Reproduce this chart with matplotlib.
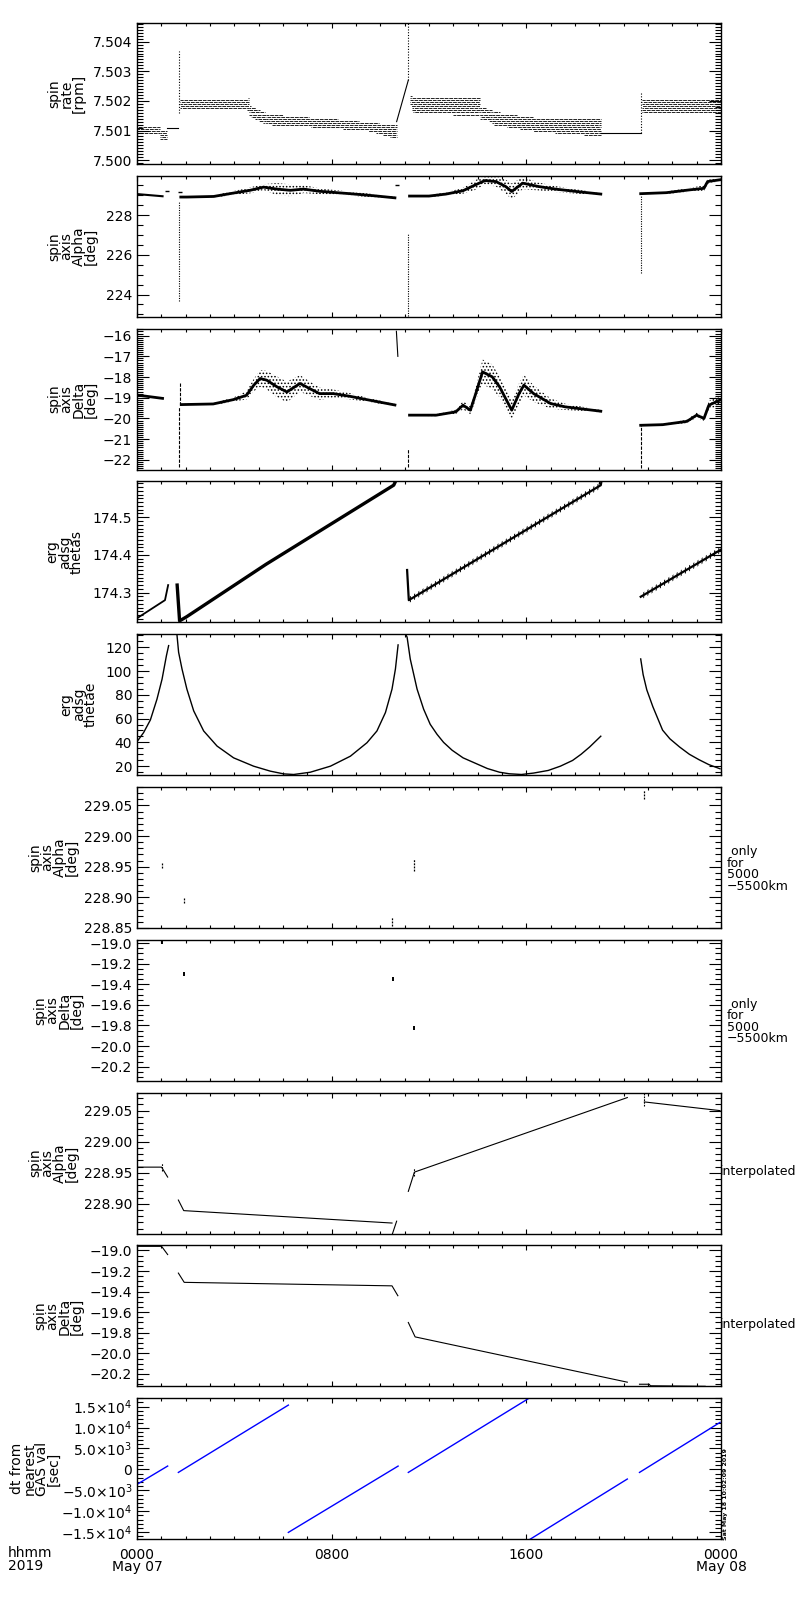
import numpy as np
import matplotlib
matplotlib.use("Agg")
import matplotlib.pyplot as plt
from matplotlib.ticker import MultipleLocator, FixedLocator, FuncFormatter

plt.rcParams['font.family'] = ['DejaVu Sans']
plt.rcParams['hatch.linewidth'] = 0.7

# ---------------- x axis (hours of 2019-05-07) ----------------
xtick_hours = [0, 8, 16, 24]
xtick_labels = ["0000\nMay 07", "0800", "1600", "0000\nMay 08"]
corner_label = "hhmm\n2019"
stamp_text = "Sat May 18 10:02:09 2019"

ylabels = ["spin\nrate\n[rpm]", "spin\naxis\nAlpha\n[deg]", "spin\naxis\nDelta\n[deg]",
           "erg\nadsg\nthetas", "erg\nadsg\nthetae", "spin\naxis\nAlpha\n[deg]",
           "spin\naxis\nDelta\n[deg]", "spin\naxis\nAlpha\n[deg]", "spin\naxis\nDelta\n[deg]",
           "dt from\nnearest\nGAS val\n[sec]"]
right_notes = [None, None, None, None, None,
               " only\nfor\n5000\n\u22125500km", " only\nfor\n5000\n\u22125500km",
               "interpolated", "interpolated", None]

# ---------------- panel 1: spin rate (quantized bands) ----------------
rate_quant = 0.00007
rate_band_t = [[0.0, 0.96], [0.96, 1.25], [1.78, 2.1, 4.5, 4.6], [4.6, 5.3],
               [5.3, 6.5, 8.0, 9.5, 10.67], [11.2, 11.35, 14.1], [14.1, 14.6],
               [14.6, 16.5, 19.06], [20.75, 24.0]]
rate_band_lo = [[7.50088, 7.50088], [7.5007, 7.5007], [7.5017, 7.5017, 7.5017, 7.5016],
                [7.5015, 7.5012], [7.5012, 7.50115, 7.50108, 7.50098, 7.5007],
                [7.50195, 7.5016, 7.5015], [7.5014, 7.5013], [7.5012, 7.50095, 7.5008],
                [7.50158, 7.50158]]
rate_band_hi = [[7.50113, 7.50113], [7.50098, 7.50098], [7.50207, 7.5021, 7.50205, 7.50215],
                [7.50185, 7.5016], [7.5016, 7.5015, 7.50142, 7.5013, 7.5012],
                [7.5023, 7.5021, 7.50214], [7.5018, 7.5017], [7.50164, 7.50145, 7.5014],
                [7.50205, 7.50205]]
rate_line_t = [[1.25, 1.70], [10.67, 11.15], [19.06, 20.7]]
rate_line_v = [[7.5011, 7.5011], [7.5013, 7.5027], [7.5009, 7.5009]]
rate_spike_t = [1.72, 11.15, 20.72]
rate_spike_lo = [7.5016, 7.5027, 7.5009]
rate_spike_hi = [7.5037, 7.50465, 7.50225]

# ---------------- panel 2: spin axis alpha ----------------
alpha_pre_t = [0.0, 1.05]
alpha_pre_v = [229.06, 228.95]
alpha_o1_t = [1.8, 2.05, 3.15, 3.96, 4.65, 5.2, 5.75, 6.3, 6.85, 7.5, 8.75, 9.7, 10.6]
alpha_o1_v = [228.91, 228.91, 228.94, 229.11, 229.25, 229.41, 229.31, 229.25, 229.31, 229.2, 229.08, 228.98, 228.87]
alpha_o1_sp = [0.03, 0.03, 0.05, 0.1, 0.15, 0.15, 0.3, 0.3, 0.2, 0.15, 0.1, 0.08, 0.05]
alpha_o2_t = [11.2, 12.0, 12.7, 13.4, 13.9, 14.3, 14.75, 15.15, 15.4, 15.85, 16.5, 17.2, 18.2, 19.06]
alpha_o2_v = [228.96, 228.96, 229.06, 229.23, 229.52, 229.74, 229.69, 229.44, 229.19, 229.61, 229.44, 229.31, 229.17, 229.06]
alpha_o2_sp = [0.03, 0.05, 0.08, 0.15, 0.25, 0.2, 0.25, 0.35, 0.4, 0.3, 0.2, 0.15, 0.1, 0.05]
alpha_o3_t = [20.7, 21.75, 22.7, 23.3, 23.45, 23.96]
alpha_o3_v = [229.08, 229.13, 229.27, 229.35, 229.69, 229.78]
alpha_o3_sp = [0.03, 0.06, 0.1, 0.15, 0.1, 0.08]
alpha_drop_t = [1.72, 11.15, 20.72]
alpha_drop_top = [228.7, 227.1, 229.0]
alpha_drop_bot = [223.7, 222.9, 225.1]
alpha_dash_t = [1.25, 1.76, 10.7]
alpha_dash_v = [229.2, 229.15, 229.53]

# ---------------- panel 3: spin axis delta ----------------
delta_pre_t = [0.0, 1.05]
delta_pre_v = [-18.87, -19.03]
delta_o1_t = [1.82, 3.13, 3.96, 4.5, 4.8, 5.06, 5.33, 5.75, 6.16, 6.7, 7.1, 7.5, 8.07, 8.75, 9.44, 10.6]
delta_o1_v = [-19.33, -19.30, -19.09, -18.88, -18.39, -18.07, -18.15, -18.47, -18.72, -18.31, -18.56, -18.8, -18.8, -18.93, -19.09, -19.35]
delta_o1_sp = [0.03, 0.05, 0.1, 0.2, 0.3, 0.4, 0.45, 0.5, 0.5, 0.4, 0.35, 0.3, 0.2, 0.15, 0.1, 0.05]
delta_o2_t = [11.2, 12.3, 13.1, 13.4, 13.7, 13.9, 14.2, 14.6, 14.9, 15.15, 15.4, 15.7, 15.9, 16.3, 17.0, 17.6, 19.06]
delta_o2_v = [-19.84, -19.84, -19.68, -19.36, -19.60, -18.88, -17.75, -17.99, -18.47, -19.04, -19.6, -18.8, -18.39, -18.8, -19.28, -19.44, -19.65]
delta_o2_sp = [0.03, 0.05, 0.1, 0.2, 0.2, 0.3, 0.6, 0.6, 0.5, 0.5, 0.5, 0.5, 0.5, 0.4, 0.25, 0.15, 0.06]
delta_o3_t = [20.7, 21.6, 22.6, 23.0, 23.3, 23.5, 23.96]
delta_o3_v = [-20.33, -20.3, -20.14, -19.84, -20.0, -19.36, -19.11]
delta_o3_sp = [0.02, 0.04, 0.08, 0.12, 0.12, 0.2, 0.25]
delta_drop_t = [1.72, 11.12, 20.72, 1.76]
delta_drop_top = [-19.44, -21.47, -20.33, -18.3]
delta_drop_bot = [-22.36, -22.36, -22.4, -19.33]
delta_jump_t = [10.66, 10.72]
delta_jump_v = [-15.79, -17.0]

# ---------------- panel 4: thetas ----------------
thetas_o0_t = [0.0, 1.15, 1.28]
thetas_o0_v = [174.232, 174.28, 174.32]
thetas_o1_t = [1.65, 1.75, 2.04, 5.3, 10.55, 10.66]
thetas_o1_v = [174.32, 174.225, 174.236, 174.375, 174.585, 174.6]
thetas_o2_t = [11.10, 11.17, 19.06, 19.1]
thetas_o2_v = [174.36, 174.28, 174.585, 174.6]
thetas_o3_t = [20.7, 24.0]
thetas_o3_v = [174.289, 174.414]

# ---------------- panel 5: thetae ----------------
thetae_o0_t = [0.0, 0.27, 0.55, 0.82, 1.03, 1.21, 1.30]
thetae_o0_v = [40.6, 48.2, 58.9, 76.3, 93.2, 113.0, 121.4]
thetae_o1_t = [1.64, 1.71, 1.85, 2.05, 2.33, 2.74, 3.29, 3.97, 4.79, 5.48, 6.03, 6.44, 7.12,
               7.95, 8.77, 9.45, 9.86, 10.21, 10.48, 10.62, 10.73]
thetae_o1_v = [131.0, 115.8, 101.7, 84.8, 66.5, 49.6, 36.9, 27.0, 20.0, 15.8, 13.5, 13.0, 14.9,
               20.0, 28.4, 39.7, 49.6, 65.1, 84.8, 101.7, 122.0]
thetae_o2_t = [11.04, 11.10, 11.23, 11.51, 11.78, 12.05, 12.33, 12.6, 12.95, 13.4, 13.9, 14.4,
               14.9, 15.3, 15.8, 16.3, 16.9, 17.4, 17.9, 18.25, 18.6, 19.06]
thetae_o2_v = [131.0, 128.5, 110.1, 84.8, 67.9, 55.2, 46.8, 40.0, 33.4, 27.0, 22.5, 18.0,
               14.9, 13.6, 13.0, 14.2, 16.4, 20.0, 24.8, 30.0, 36.1, 45.2]
thetae_o3_t = [20.7, 20.8, 20.95, 21.2, 21.6, 21.9, 22.3, 22.7, 23.1, 23.5, 23.96]
thetae_o3_v = [110.2, 97.0, 84.2, 70.0, 50.3, 43.0, 36.1, 30.0, 25.4, 21.3, 17.8]

# ---------------- panels 6/7: only for 5000-5500 km ----------------
only_alpha_t = [1.01, 1.92, 10.48, 11.37, 20.85]
only_alpha_lo = [228.948, 228.891, 228.853, 228.943, 229.06]
only_alpha_hi = [228.958, 228.899, 228.868, 228.962, 229.075]
only_delta_t = [1.01, 1.92, 10.5, 11.38]
only_delta_v = [-18.99, -19.30, -19.35, -19.82]

# ---------------- panels 8/9: interpolated ----------------
ialpha_t = [[0.0, 1.01, 1.26], [1.70, 1.92, 10.48], [10.5, 10.67], [11.15, 11.40, 20.15], [20.85, 23.96]]
ialpha_v = [[228.959, 228.959, 228.943], [228.906, 228.889, 228.869], [228.852, 228.872],
            [228.92, 228.951, 229.071], [229.064, 229.05]]
ialpha_tick_t = [1.01, 11.40, 20.85]
ialpha_tick_lo = [228.952, 228.944, 229.057]
ialpha_tick_hi = [228.966, 228.958, 229.079]
idelta_t = [[0.0, 1.01, 1.26], [1.70, 1.94, 10.48, 10.72], [11.15, 11.43, 20.15],
            [20.65, 21.05, 21.1, 23.35]]
idelta_v = [[-18.96, -18.96, -19.04], [-19.22, -19.31, -19.344, -19.44], [-19.70, -19.84, -20.28],
            [-20.30, -20.30, -20.315, -20.32]]

# ---------------- panel 10: dt from nearest GAS value ----------------
dt_t0 = [0.0, 1.70, 6.22, 11.15, 16.15, 20.65]
dt_t1 = [1.26, 6.22, 10.73, 16.11, 20.15, 23.96]
dt_v0 = [-3580, -720, -15050, -720, -16700, -720]
dt_v1 = [800, 15360, 790, 17000, -2300, 11230]

# ---------------- axes settings ----------------
ylims = [(7.49987, 7.50463), (222.88, 229.98), (-22.47, -15.66), (174.221, 174.595),
         (12.4, 131.0), (228.850, 229.080), (-20.337, -18.968), (228.852, 229.079),
         (-20.321, -18.951), (-16672, 17006)]
ymajor = [0.001, 2, 1, 0.1, 20, 0.05, 0.2, 0.05, 0.2, 5000]
yminor = [0.0001, 0.5, 0.1, 0.01, 5, 0.01, 0.05, 0.01, 0.05, 1000]
ydec = [3, 0, 0, 1, 0, 2, 1, 2, 1, None]
ylabel_right_px = [86, 98, 98, 84, 98, 79, 84, 79, 84, 61]


def make_fmt(d):
    def f(v, pos):
        s = f"{v:.{d}f}"
        if s.startswith("-"):
            s = "\u2212" + s[1:]
        return s
    return FuncFormatter(f)


def sci_fmt(v, pos):
    if abs(v) < 1e-6:
        return "0"
    e = int(np.floor(np.log10(abs(v)) + 1e-9))
    m = v / 10 ** e
    return rf"${m:.1f}{{\times}}10^{{{e}}}$"


fig = plt.figure(figsize=(8, 16), dpi=100)
FW, FH = 800.0, 1600.0
left_px, width_px, h_px = 137.0, 584.0, 141.0
axes = []
for k in range(10):
    top = 23.0 + 152.8 * k
    ax = fig.add_axes([left_px / FW, 1 - (top + h_px) / FH, width_px / FW, h_px / FH])
    axes.append(ax)

K = dict(color='black', lw=0.8)

for k, ax in enumerate(axes):
    ax.set_xlim(0, 24)
    ax.set_ylim(*ylims[k])
    ax.xaxis.set_major_locator(FixedLocator(xtick_hours))
    ax.xaxis.set_minor_locator(MultipleLocator(1))
    ax.yaxis.set_major_locator(MultipleLocator(ymajor[k]))
    ax.yaxis.set_minor_locator(MultipleLocator(yminor[k]))
    if ydec[k] is None:
        ax.yaxis.set_major_formatter(FuncFormatter(sci_fmt))
    else:
        ax.yaxis.set_major_formatter(make_fmt(ydec[k]))
    ax.tick_params(axis='both', which='both', direction='in', top=True, right=True,
                   width=0.8, labelsize=10)
    ax.tick_params(axis='y', which='major', length=8.6)
    ax.tick_params(axis='y', which='minor', length=4.3)
    ax.tick_params(axis='x', which='major', length=3.5, pad=6)
    ax.tick_params(axis='x', which='minor', length=2)
    for sp in ax.spines.values():
        sp.set_linewidth(1.0)
    if k < 9:
        ax.set_xticklabels([])
    else:
        ax.set_xticklabels(xtick_labels, fontsize=10, linespacing=0.9)
    ax.set_ylabel(ylabels[k], fontsize=10, linespacing=0.85)
    ax.yaxis.set_label_coords((ylabel_right_px[k] - left_px) / width_px, 0.5)
    if right_notes[k] is not None:
        if right_notes[k] == "interpolated":
            ax.text(0.998, 0.44, right_notes[k], transform=ax.transAxes, ha='left',
                    va='center', fontsize=9)
        else:
            ax.text(1.01, 0.42, right_notes[k], transform=ax.transAxes, ha='left',
                    va='center', fontsize=9, linespacing=0.85)

# ---- panel 1
ax = axes[0]
for tn, lo_n, hi_n in zip(rate_band_t, rate_band_lo, rate_band_hi):
    tt = np.linspace(tn[0], tn[-1], 300)
    lo = np.interp(tt, tn, lo_n)
    hi = np.interp(tt, tn, hi_n)
    k0 = int(np.floor((min(lo_n) - 7.5) / rate_quant))
    k1 = int(np.ceil((max(hi_n) - 7.5) / rate_quant))
    for q in range(k0, k1 + 1):
        L = 7.5 + q * rate_quant
        yy = np.where((lo <= L) & (hi >= L), L, np.nan)
        ax.plot(tt, yy, color='black', lw=0.6, ls=((q * 2.3) % 5.5, (4.5, 1.0)))
for tn, vn in zip(rate_line_t, rate_line_v):
    ax.plot(tn, vn, **K)
ax.vlines(rate_spike_t, rate_spike_lo, rate_spike_hi, colors='black', lw=0.8, linestyles=(0, (1, 1.5)))


def cloud(ax, t, v, sp):
    t = np.asarray(t); v = np.asarray(v); sp = np.asarray(sp)
    ax.fill_between(t, v - sp, v + sp, facecolor='none', edgecolor='black', hatch='.....', lw=0)
    ax.plot(t, v, color='black', lw=2.0)


# ---- panel 2
ax = axes[1]
ax.plot(alpha_pre_t, alpha_pre_v, color='black', lw=1.5)
cloud(ax, alpha_o1_t, alpha_o1_v, alpha_o1_sp)
cloud(ax, alpha_o2_t, alpha_o2_v, alpha_o2_sp)
cloud(ax, alpha_o3_t, alpha_o3_v, alpha_o3_sp)
ax.vlines(alpha_drop_t, alpha_drop_bot, alpha_drop_top, colors='black', lw=0.8, linestyles=(0, (1, 1.2)))
ax.plot(alpha_dash_t, alpha_dash_v, ls='none', marker='_', ms=3, mew=1.0, color='black')

# ---- panel 3
ax = axes[2]
ax.plot(delta_pre_t, delta_pre_v, color='black', lw=2.0)
cloud(ax, delta_o1_t, delta_o1_v, delta_o1_sp)
cloud(ax, delta_o2_t, delta_o2_v, delta_o2_sp)
cloud(ax, delta_o3_t, delta_o3_v, delta_o3_sp)
ax.vlines(delta_drop_t, delta_drop_bot, delta_drop_top, colors='black', lw=0.8, linestyles=(0, (3, 1.2)))
ax.plot(delta_jump_t, delta_jump_v, **K)

# ---- panel 4
ax = axes[3]
ax.plot(thetas_o0_t, thetas_o0_v, color='black', lw=1.3)
ax.plot(thetas_o1_t, thetas_o1_v, color='black', lw=2.4)
for tn, vn in ((thetas_o2_t, thetas_o2_v), (thetas_o3_t, thetas_o3_v)):
    tn = np.asarray(tn); vn = np.asarray(vn)
    ax.fill_between(tn, vn - 0.008, vn + 0.008, facecolor='none', edgecolor='black', hatch='||||', lw=0)
    ax.plot(tn, vn, color='black', lw=1.6)

# ---- panel 5
ax = axes[4]
for tn, vn in ((thetae_o0_t, thetae_o0_v), (thetae_o1_t, thetae_o1_v),
               (thetae_o2_t, thetae_o2_v), (thetae_o3_t, thetae_o3_v)):
    ax.plot(tn, vn, color='black', lw=1.0)

# ---- panel 6
ax = axes[5]
ax.vlines(only_alpha_t, only_alpha_lo, only_alpha_hi, colors='black', lw=0.9, linestyles=(0, (1.5, 1)))

# ---- panel 7
ax = axes[6]
ax.plot(only_delta_t, only_delta_v, ls='none', marker='|', ms=3, mew=1.4, color='black')

# ---- panel 8
ax = axes[7]
for tn, vn in zip(ialpha_t, ialpha_v):
    ax.plot(tn, vn, **K)
ax.vlines(ialpha_tick_t, ialpha_tick_lo, ialpha_tick_hi, colors='black', lw=0.8, linestyles=(0, (1.5, 1)))

# ---- panel 9
ax = axes[8]
for tn, vn in zip(idelta_t, idelta_v):
    ax.plot(tn, vn, **K)

# ---- panel 10
ax = axes[9]
for a, b, c, d in zip(dt_t0, dt_t1, dt_v0, dt_v1):
    ax.plot([a, b], [c, d], color='#0000ff', lw=1.0)

# ---- figure texts
fig.text(8 / FW, 1 - 1546 / FH, corner_label, ha='left', va='top', fontsize=10, linespacing=0.9)
fig.text(725 / FW, 1 - 1540 / FH, stamp_text, rotation=90, ha='center', va='bottom',
         fontsize=4.5, fontweight='bold')

fig.savefig('out.png', dpi=100)
